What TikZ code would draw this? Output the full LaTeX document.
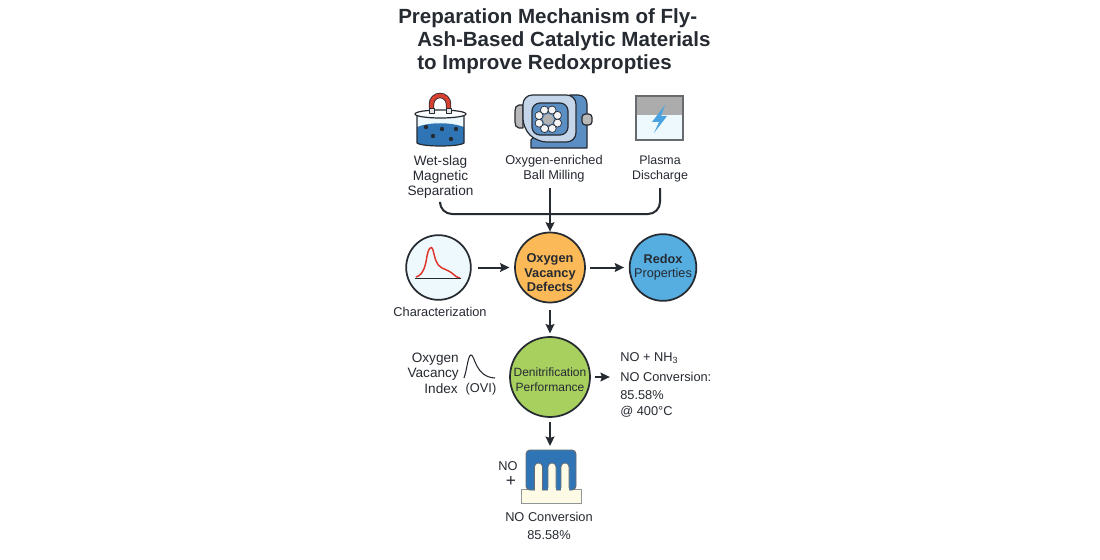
\documentclass[tikz,border=0pt]{standalone}
\usepackage{fontspec}
\setmainfont{Liberation Sans}
\usetikzlibrary{arrows.meta,shapes.geometric}
\definecolor{ink}{HTML}{262A31}
\definecolor{watr}{HTML}{2F75B5}
\definecolor{milla}{HTML}{C5D6EA}
\definecolor{millb}{HTML}{5B8FC4}
\definecolor{bolt}{HTML}{4AA3E0}
\definecolor{magr}{HTML}{D9402F}
\definecolor{curv}{HTML}{E0352B}
\definecolor{orng}{HTML}{FBB957}
\definecolor{skyb}{HTML}{55ADE0}
\definecolor{lgrn}{HTML}{A8D05F}
\definecolor{pale}{HTML}{EDF9FD}
\definecolor{crm}{HTML}{FDFBE6}
\tikzset{
 px/.style={x=0.75pt,y=-0.75pt},
 lbl/.style={inner sep=0pt,text=ink,align=center,font=\fontsize{9.6}{11.25}\selectfont},
 lblb/.style={lbl,font=\fontsize{10.2}{11.25}\selectfont},
 lbll/.style={lbl,anchor=west,align=left},
 lblr/.style={lblb,anchor=east,align=right},
 ttl/.style={inner sep=0pt,anchor=west,text=ink,font=\fontsize{15.4}{18}\selectfont\bfseries},
 disc/.style={circle,draw=ink,line width=1.3pt,inner sep=0pt},
 arr/.style={draw=ink,line width=1.5pt,-{Stealth[length=7pt,width=6.5pt,inset=1pt]}},
 con/.style={draw=ink,line width=1.5pt},
 outl/.style={draw=ink,line width=0.9pt,line join=round},
}
\begin{document}
\begin{tikzpicture}[px]
\useasboundingbox[fill=white] (0,0) rectangle (1100,560);
% title
\node[ttl] (t1) at (398,18.5) {Preparation Mechanism of Fly-};
\node[ttl] (t2) at (417,41.5) {Ash-Based Catalytic Materials};
\node[ttl] (t3) at (417,64.5) {to Improve Redoxpropties};
% magnet beaker
\fill[pale] (417,114) -- (417,143) .. controls (422,147) and (459,147) .. (464,143) -- (464,114) -- cycle;
\fill[watr] (417,127) .. controls (430,122) and (450,122) .. (464,127) -- (464,143) .. controls (459,147) and (422,147) .. (417,143) -- cycle;
\draw[outl] (417,116) -- (417,143) .. controls (422,147) and (459,147) .. (464,143) -- (464,116);
\draw[outl,fill=white,fill opacity=.6] (440.5,114) ellipse[x radius=25.5,y radius=4];
\draw[line width=4.1pt,draw=ink] (431.5,108) -- (431.5,104) arc[start angle=180,end angle=360,radius=8.5] -- (448.5,108);
\draw[line width=2.8pt,draw=magr] (431.5,108) -- (431.5,104) arc[start angle=180,end angle=360,radius=8.5] -- (448.5,108);
\draw[outl,fill=gray!20,line width=.7pt] (429,108) rectangle (434,113);
\draw[outl,fill=gray!20,line width=.7pt] (446,108) rectangle (451,113);
\foreach \a/\b in {426/127,442/129,456/129,433/136,451/139}{\fill[ink] (\a,\b) circle[radius=2.2];}
% mill
\draw[outl,fill=gray!55] (523,105) -- (519,105) .. controls (516,105) and (515,108) .. (515,111) -- (515,122) .. controls (515,125) and (516,128) .. (519,128) -- (523,128) -- cycle;
\draw[outl,fill=millb] (570,95) -- (578,95) .. controls (584,95) and (587,99) .. (587,104) -- (587,148) -- (531,148) -- (531,140) -- cycle;
\draw[outl,fill=gray!55,rounded corners=2.5pt] (582,114) rectangle (592,125);
\draw[outl,fill=milla,rounded corners=7pt] (523,95) -- (576,95) -- (576,142) -- (537,142) -- (523,128) -- cycle;
\draw[outl,fill=millb,rounded corners=6pt] (532,103) rectangle (568,135);
\foreach \a in {0,45,...,315}{\draw[draw=ink,line width=.5pt,fill=gray!8] (548.3,119.3) ++(\a+22:10) circle[radius=4];}
\fill[gray!60] (548.3,119.3) circle[radius=5.5];
% plasma
\fill[pale] (636,115) rectangle (683,140);
\fill[gray!65] (636,96) rectangle (683,115);
\draw[draw=ink!70,line width=.9pt] (636,96) rectangle (683,140);
\fill[bolt] (665,105) -- (652,122) -- (659,122) -- (654,133) -- (667,116) -- (661,116) -- cycle;
% labels
\node[lblb] (wet) at (440.5,176.5) {Wet-slag\\Magnetic\\Separation};
\node[lbl] (ball) at (554,169) {Oxygen-enriched\\Ball Milling};
\node[lbl,font=\fontsize{9.3}{11.25}\selectfont] (plas) at (660,169) {Plasma\\Discharge};
\coordinate (wetb) at (440,204);
\coordinate (plab) at (660,188);
\coordinate (balb) at (550,188);
% circles
\node[disc,fill=pale,minimum size=48.5pt] (char) at (438.5,267.5) {};
\draw[line width=1.1pt,curv] (416,277) .. controls (424,275) and (426,263) .. (427,256) .. controls (428,250) and (431,244) .. (433,250) .. controls (435,258) and (436,265) .. (442,268) .. controls (447,270) and (451,272) .. (453,274) .. controls (455,276) and (458,278) .. (460,278);
\draw[line width=1.2pt,ink] (415,278.5) -- (461,278.5);
\node[lbl] (chtx) at (440,311.5) {Characterization};
\node[disc,fill=orng,minimum size=52.5pt] (ovd) at (550,267.5) {};
\node[lbl,font=\fontsize{9.6}{10.9}\selectfont\bfseries] (ovdt) at (550,273) {Oxygen\\Vacancy\\Defects};
\node[disc,fill=skyb,minimum size=50pt] (red) at (663,267.5) {};
\node[lbl,font=\fontsize{9.5}{10.5}\selectfont] (redt) at (663,267.5) {\textbf{Redox}\\Properties};
\node[disc,fill=lgrn,minimum size=60pt] (den) at (550,377) {};
\node[lbl,font=\fontsize{9}{11.25}\selectfont] (dent) at (550,379.5) {Denitrification\\Performance};
% OVI
\node[lblr] (ovi1) at (459,359) {Oxygen};
\node[lblr] (ovi2) at (459,374) {Vacancy};
\node[lblr] (ovi3) at (458,389) {Index};
\node[lbl] (ovi4) at (481,389) {(OVI)};
\draw[line width=.8pt,ink] (464,378) .. controls (467,370) and (468,355) .. (471,355) .. controls (475,355) and (475,377) .. (495,378);
% right text
\node[lbll] (r1) at (620,358) {NO + NH\textsubscript{3}};
\node[lbll] (r2) at (620,377) {NO Conversion:};
\node[lbll] (r3) at (620,395) {85.58\%};
\node[lbll] (r4) at (620,412) {@ 400°C};
% catalyst
\coordinate (catt) at (550,446);
\node[draw=ink!50,fill=crm,line width=.7pt,minimum width=45pt,minimum height=10pt,inner sep=0pt] (base) at (551,496.5) {};
\fill[watr,draw=ink!70,line width=.7pt,rounded corners=3pt] (526,490) -- (526,450) -- (576,450) -- (576,490) -- cycle;
\foreach \a in {538.5,552,565}{\filldraw[fill=crm,draw=ink!70,line width=.5pt] (\a-4,490) -- (\a-4,467) arc[start angle=180,end angle=360,radius=4] -- (\a+4,490);\fill[crm] (\a-3.6,491) rectangle (\a+3.6,488);}
\node[lbl] (cno) at (508,466) {NO};
\node[lbl,font=\fontsize{13}{14}\selectfont] (cpl) at (511,481) {+};
\node[lbl] (cc1) at (549,517) {NO Conversion};
\node[lbl] (cc2) at (549,535) {85.58\%};
% connectors
\draw[con,rounded corners=9pt] (wetb) -- (440,214) -- (660,214) -- (plab);
\draw[arr] (balb) -- (ovd.north);
\draw[arr] ([xshift=5pt]char.east) -- ([xshift=-3.5pt]ovd.west);
\draw[arr] ([xshift=3pt]ovd.east) -- ([xshift=-3.5pt]red.west);
\draw[arr] ([yshift=-5pt]ovd.south) -- ([yshift=2pt]den.north);
\draw[arr] ([xshift=3pt]den.east) -- ++(15,0);
\draw[arr] ([yshift=-3pt]den.south) -- (catt);
\end{tikzpicture}
\end{document}
